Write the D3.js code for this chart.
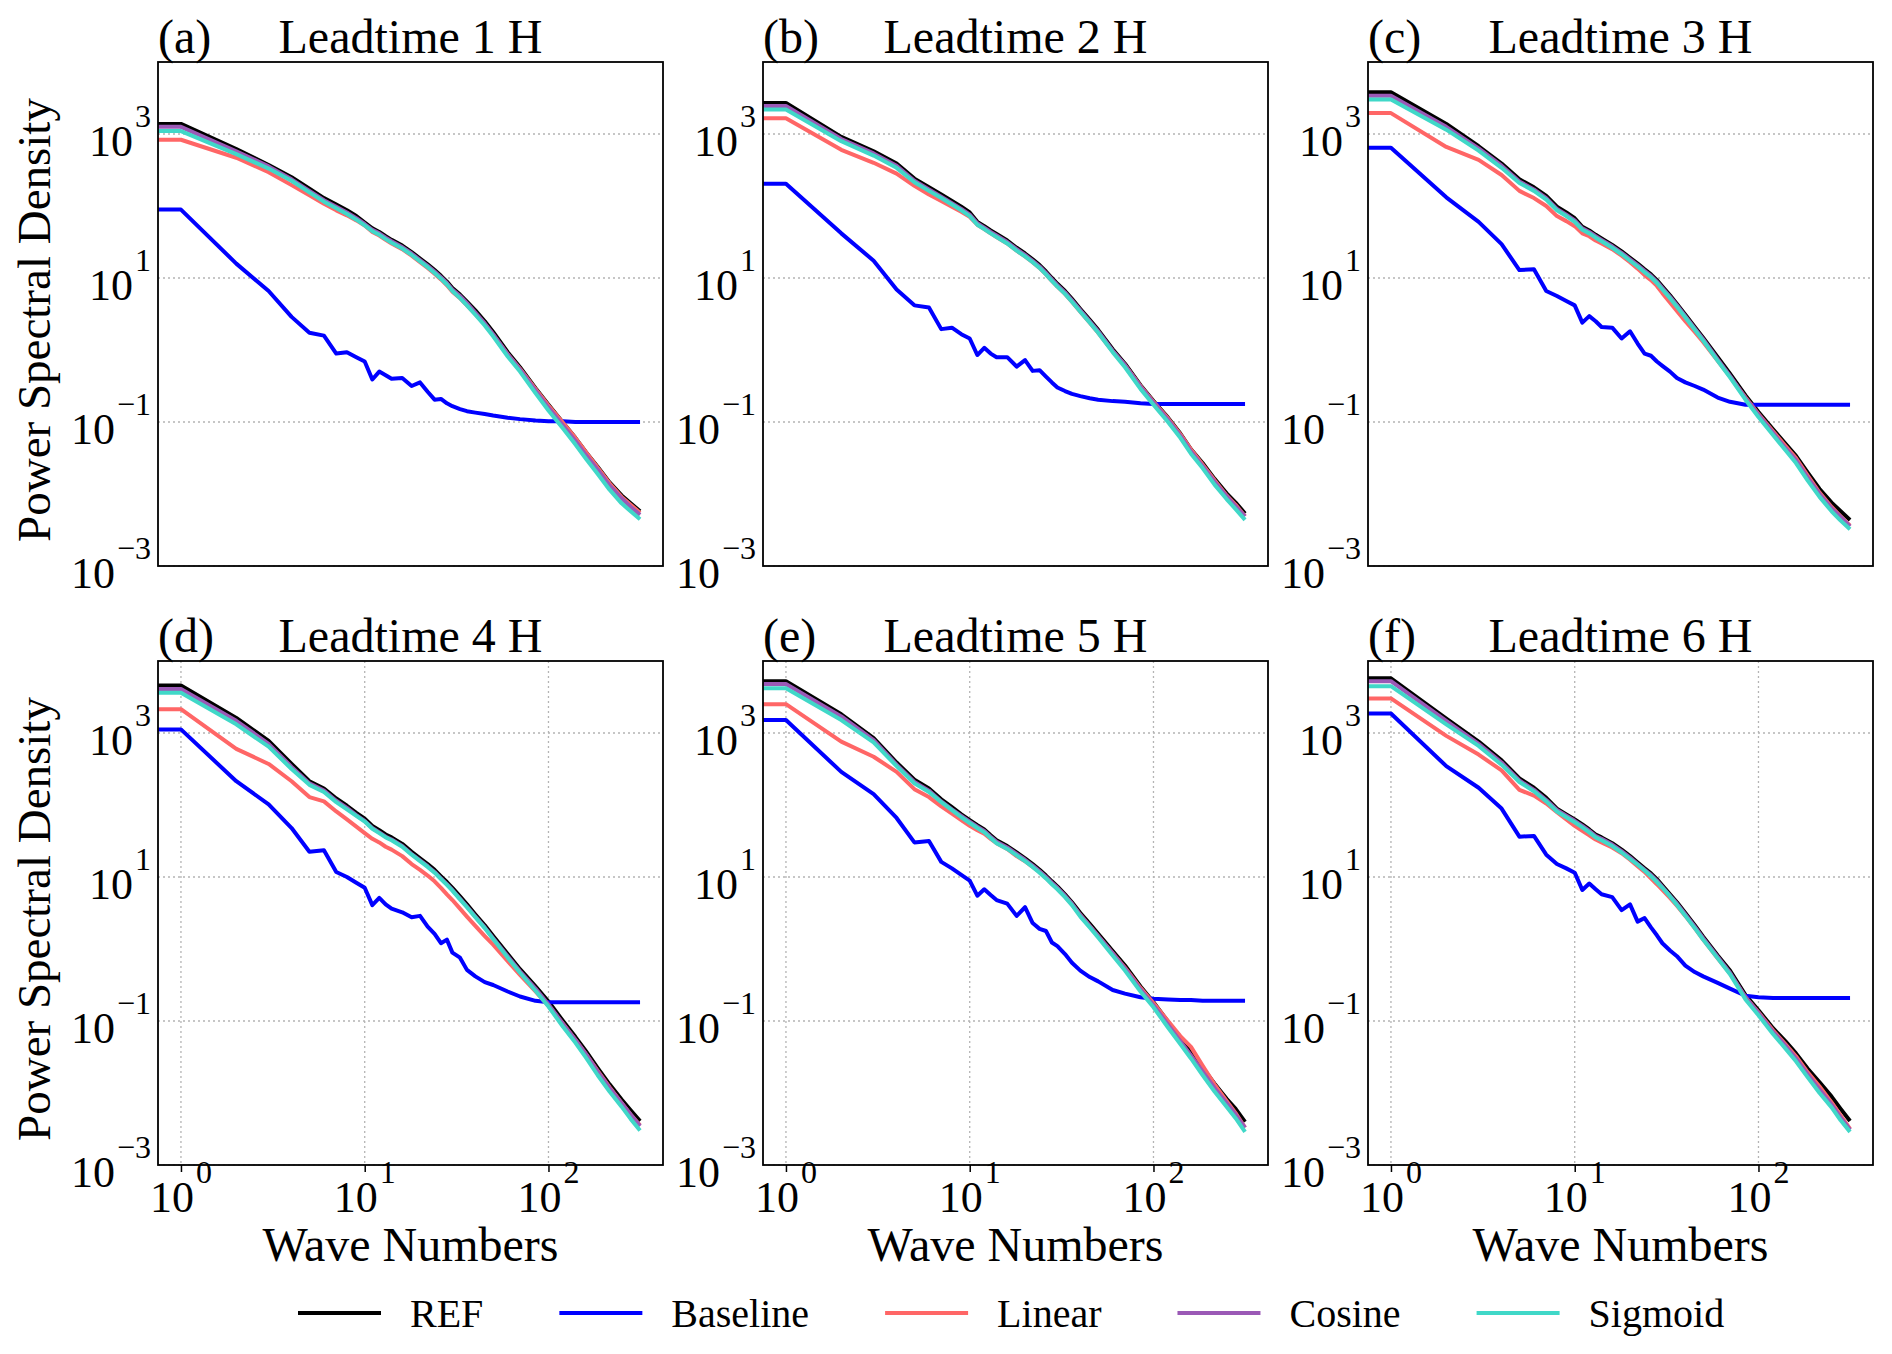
<!DOCTYPE html>
<html>
<head>
<meta charset="utf-8">
<script src="https://cdn.jsdelivr.net/npm/d3@7"></script>
<style>
body { margin: 0; background: #fff; }
text { font-family: "Liberation Serif", "Times New Roman", serif; fill: #000; }
</style>
</head>
<body>
<div id="viz"></div>
<script>
// wave numbers shared by every curve
var waveNumbers = [1,2,3,4,5,6,7,8,9,10,11,12,13,14,16,18,20,22,24,26,28,30,33,36,40,45,50,60,70,85,100,120,140,160,185,215,250,280,315];

// log10 of the power spectral density
// (a) leadtime 1 H
var refA  = [3.14,2.79,2.57,2.40,2.24,2.11,2.02,1.94,1.86,1.77, 1.69,1.64,1.58,1.53,1.45,1.36,1.27,1.19,1.11,1.03, 0.95,0.86,0.77,0.67,0.55,0.40,0.25,-0.03,-0.24,-0.53, -0.76,-1.01,-1.22,-1.42,-1.62,-1.84,-2.02,-2.13,-2.24];
var baseA = [1.95,1.20,0.82,0.46,0.24,0.20,-0.05,-0.03,-0.10,-0.16, -0.41,-0.30,-0.35,-0.40,-0.39,-0.50,-0.45,-0.58,-0.69,-0.68, -0.74,-0.78,-0.82,-0.85,-0.87,-0.89,-0.91,-0.94,-0.96,-0.98, -0.99,-0.99,-1.00,-1.00,-1.00,-1.00,-1.00,-1.00,-1.00];
var linA  = [2.92,2.67,2.47,2.29,2.15,2.03,1.94,1.87,1.80,1.73, 1.64,1.59,1.53,1.48,1.40,1.31,1.22,1.14,1.06,0.98, 0.90,0.81,0.72,0.62,0.50,0.36,0.21,-0.06,-0.26,-0.54, -0.77,-1.01,-1.22,-1.42,-1.63,-1.85,-2.04,-2.15,-2.26];
var cosA  = [3.10,2.76,2.55,2.37,2.21,2.08,1.99,1.91,1.83,1.75, 1.67,1.62,1.56,1.51,1.43,1.34,1.25,1.17,1.09,1.01, 0.93,0.84,0.75,0.65,0.52,0.37,0.22,-0.06,-0.27,-0.56, -0.80,-1.05,-1.26,-1.46,-1.66,-1.88,-2.06,-2.18,-2.29];
var sigA  = [3.04,2.72,2.52,2.35,2.19,2.06,1.97,1.89,1.81,1.73, 1.65,1.60,1.54,1.49,1.41,1.32,1.23,1.15,1.07,0.99, 0.91,0.82,0.72,0.62,0.49,0.34,0.19,-0.09,-0.30,-0.60, -0.84,-1.09,-1.31,-1.51,-1.72,-1.94,-2.13,-2.24,-2.35];

// (b) leadtime 2 H
var refB  = [3.43,2.96,2.76,2.59,2.38,2.26,2.16,2.07,1.99,1.91, 1.78,1.72,1.66,1.61,1.52,1.42,1.34,1.26,1.18,1.09, 1.00,0.92,0.82,0.71,0.57,0.42,0.28,0.01,-0.19,-0.49, -0.71,-0.94,-1.16,-1.38,-1.57,-1.79,-1.99,-2.12,-2.27];
var baseB = [2.31,1.62,1.24,0.84,0.62,0.59,0.29,0.31,0.22,0.16, -0.07,0.03,-0.05,-0.10,-0.10,-0.23,-0.14,-0.29,-0.28,-0.37, -0.45,-0.52,-0.57,-0.61,-0.64,-0.67,-0.69,-0.71,-0.72,-0.74, -0.75,-0.75,-0.75,-0.75,-0.75,-0.75,-0.75,-0.75,-0.75];
var linB  = [3.22,2.78,2.60,2.45,2.28,2.16,2.07,1.99,1.92,1.85, 1.74,1.68,1.62,1.57,1.48,1.38,1.30,1.22,1.14,1.05, 0.96,0.88,0.78,0.67,0.53,0.38,0.24,-0.02,-0.21,-0.50, -0.72,-0.95,-1.17,-1.38,-1.59,-1.81,-2.02,-2.15,-2.31];
var cosB  = [3.39,2.93,2.73,2.56,2.35,2.23,2.13,2.04,1.96,1.88, 1.76,1.70,1.64,1.59,1.50,1.40,1.32,1.24,1.16,1.07, 0.98,0.90,0.80,0.69,0.55,0.40,0.26,-0.01,-0.21,-0.51, -0.73,-0.97,-1.19,-1.41,-1.61,-1.83,-2.03,-2.17,-2.31];
var sigB  = [3.34,2.90,2.70,2.53,2.33,2.21,2.11,2.02,1.94,1.86, 1.74,1.68,1.62,1.57,1.48,1.38,1.30,1.22,1.14,1.05, 0.96,0.88,0.78,0.67,0.53,0.38,0.24,-0.03,-0.24,-0.54, -0.76,-1.00,-1.22,-1.44,-1.64,-1.87,-2.07,-2.21,-2.36];

// (c) leadtime 3 H
var refC  = [3.58,3.14,2.83,2.59,2.37,2.26,2.14,1.99,1.91,1.83, 1.71,1.66,1.60,1.55,1.46,1.37,1.28,1.20,1.12,1.05, 0.97,0.88,0.76,0.64,0.49,0.32,0.17,-0.10,-0.33,-0.63, -0.86,-1.10,-1.30,-1.47,-1.70,-1.93,-2.12,-2.24,-2.36];
var baseC = [2.81,2.12,1.78,1.47,1.11,1.12,0.82,0.75,0.68,0.62, 0.38,0.47,0.40,0.32,0.31,0.16,0.26,0.09,-0.05,-0.08, -0.16,-0.22,-0.30,-0.39,-0.45,-0.50,-0.55,-0.66,-0.72,-0.76, -0.76,-0.76,-0.76,-0.76,-0.76,-0.76,-0.76,-0.76,-0.76];
var linC  = [3.29,2.82,2.64,2.43,2.21,2.11,2.00,1.86,1.79,1.72, 1.62,1.58,1.52,1.48,1.40,1.31,1.22,1.13,1.04,0.97, 0.89,0.79,0.66,0.54,0.40,0.25,0.11,-0.15,-0.37,-0.66, -0.89,-1.13,-1.33,-1.50,-1.74,-1.98,-2.18,-2.31,-2.44];
var cosC  = [3.53,3.10,2.80,2.56,2.34,2.23,2.11,1.96,1.88,1.80, 1.69,1.64,1.58,1.53,1.44,1.35,1.26,1.18,1.10,1.03, 0.95,0.86,0.74,0.62,0.47,0.30,0.15,-0.13,-0.36,-0.67, -0.90,-1.15,-1.36,-1.53,-1.77,-2.00,-2.20,-2.32,-2.45];
var sigC  = [3.48,3.06,2.77,2.53,2.32,2.21,2.09,1.94,1.86,1.78, 1.67,1.62,1.56,1.51,1.42,1.33,1.24,1.16,1.08,1.01, 0.93,0.84,0.72,0.60,0.45,0.28,0.13,-0.15,-0.38,-0.69, -0.93,-1.18,-1.39,-1.57,-1.81,-2.04,-2.24,-2.37,-2.49];

// (d) leadtime 4 H
var refD  = [3.66,3.21,2.89,2.57,2.33,2.23,2.09,1.99,1.89,1.81, 1.71,1.65,1.59,1.55,1.46,1.35,1.26,1.18,1.10,1.01, 0.93,0.85,0.73,0.62,0.48,0.33,0.18,-0.07,-0.28,-0.52, -0.73,-1.00,-1.22,-1.42,-1.65,-1.88,-2.09,-2.24,-2.39];
var baseD = [3.05,2.33,2.01,1.68,1.35,1.37,1.07,1.00,0.92,0.85, 0.61,0.71,0.62,0.56,0.51,0.44,0.46,0.31,0.21,0.08, 0.13,-0.05,-0.12,-0.29,-0.38,-0.46,-0.50,-0.59,-0.66,-0.72, -0.74,-0.74,-0.74,-0.74,-0.74,-0.74,-0.74,-0.74,-0.74];
var linD  = [3.33,2.78,2.57,2.33,2.11,2.05,1.91,1.80,1.70,1.61, 1.53,1.48,1.42,1.38,1.29,1.18,1.10,1.02,0.94,0.85, 0.76,0.68,0.56,0.45,0.32,0.18,0.06,-0.17,-0.36,-0.59, -0.79,-1.04,-1.26,-1.46,-1.69,-1.92,-2.14,-2.30,-2.45];
var cosD  = [3.61,3.17,2.85,2.53,2.30,2.20,2.06,1.96,1.86,1.78, 1.68,1.62,1.56,1.52,1.43,1.32,1.23,1.15,1.07,0.98, 0.90,0.82,0.70,0.59,0.45,0.30,0.15,-0.10,-0.31,-0.55, -0.77,-1.04,-1.26,-1.46,-1.70,-1.93,-2.14,-2.30,-2.46];
var sigD  = [3.56,3.12,2.81,2.50,2.28,2.18,2.04,1.94,1.85,1.77, 1.67,1.61,1.55,1.51,1.42,1.31,1.22,1.14,1.06,0.97, 0.89,0.81,0.69,0.58,0.44,0.29,0.14,-0.12,-0.33,-0.58, -0.80,-1.08,-1.30,-1.51,-1.75,-1.98,-2.19,-2.36,-2.52];

// (e) leadtime 5 H
var refE  = [3.72,3.26,2.93,2.59,2.35,2.23,2.08,1.97,1.87,1.79, 1.72,1.66,1.58,1.51,1.43,1.34,1.26,1.18,1.10,1.02, 0.94,0.87,0.76,0.65,0.50,0.35,0.21,-0.03,-0.23,-0.52, -0.74,-1.01,-1.24,-1.43,-1.65,-1.87,-2.08,-2.22,-2.40];
var baseE = [3.18,2.46,2.15,1.82,1.48,1.50,1.21,1.12,1.03,0.95, 0.74,0.83,0.75,0.68,0.63,0.46,0.58,0.36,0.28,0.25, 0.09,0.04,-0.07,-0.19,-0.30,-0.39,-0.45,-0.57,-0.62,-0.67, -0.69,-0.70,-0.71,-0.71,-0.72,-0.72,-0.72,-0.72,-0.72];
var linE  = [3.40,2.88,2.67,2.46,2.22,2.11,1.98,1.88,1.79,1.71, 1.65,1.60,1.53,1.47,1.39,1.29,1.22,1.14,1.07,0.99, 0.91,0.84,0.73,0.62,0.47,0.32,0.18,-0.06,-0.26,-0.54, -0.75,-1.00,-1.21,-1.36,-1.62,-1.88,-2.11,-2.28,-2.48];
var cosE  = [3.68,3.23,2.90,2.56,2.32,2.20,2.05,1.94,1.85,1.77, 1.70,1.64,1.56,1.49,1.41,1.32,1.24,1.16,1.08,1.00, 0.92,0.85,0.74,0.63,0.47,0.32,0.18,-0.06,-0.27,-0.56, -0.78,-1.05,-1.28,-1.48,-1.70,-1.93,-2.14,-2.30,-2.48];
var sigE  = [3.62,3.18,2.87,2.54,2.30,2.18,2.04,1.93,1.83,1.75, 1.68,1.62,1.54,1.47,1.39,1.30,1.22,1.14,1.06,0.98, 0.90,0.83,0.72,0.61,0.45,0.30,0.16,-0.09,-0.30,-0.59, -0.81,-1.09,-1.32,-1.52,-1.75,-1.98,-2.19,-2.35,-2.54];

// (f) leadtime 6 H
var refF  = [3.76,3.20,2.88,2.62,2.37,2.24,2.10,1.95,1.87,1.80, 1.73,1.66,1.59,1.55,1.47,1.38,1.29,1.20,1.12,1.05, 0.97,0.88,0.76,0.65,0.50,0.33,0.17,-0.09,-0.30,-0.64, -0.85,-1.10,-1.28,-1.45,-1.66,-1.85,-2.05,-2.22,-2.39];
var baseF = [3.27,2.54,2.24,1.95,1.56,1.57,1.31,1.18,1.12,1.06, 0.82,0.91,0.83,0.76,0.72,0.54,0.62,0.38,0.43,0.30, 0.19,0.08,-0.02,-0.10,-0.23,-0.32,-0.38,-0.47,-0.55,-0.65, -0.67,-0.68,-0.68,-0.68,-0.68,-0.68,-0.68,-0.68,-0.68];
var linF  = [3.48,2.96,2.70,2.48,2.21,2.13,2.02,1.90,1.80,1.71, 1.64,1.58,1.52,1.48,1.41,1.33,1.24,1.15,1.07,0.98, 0.90,0.82,0.71,0.60,0.46,0.29,0.13,-0.13,-0.34,-0.67, -0.88,-1.13,-1.32,-1.49,-1.71,-1.91,-2.13,-2.31,-2.50];
var cosF  = [3.72,3.17,2.85,2.59,2.34,2.21,2.07,1.93,1.85,1.78, 1.71,1.64,1.57,1.53,1.45,1.36,1.27,1.18,1.10,1.03, 0.95,0.86,0.74,0.63,0.48,0.31,0.15,-0.11,-0.33,-0.67, -0.89,-1.15,-1.34,-1.52,-1.74,-1.95,-2.16,-2.34,-2.51];
var sigF  = [3.65,3.12,2.82,2.56,2.32,2.19,2.05,1.91,1.83,1.76, 1.69,1.62,1.55,1.51,1.43,1.34,1.25,1.17,1.09,1.01, 0.93,0.85,0.73,0.61,0.46,0.29,0.13,-0.13,-0.35,-0.70, -0.92,-1.18,-1.38,-1.56,-1.78,-2.00,-2.20,-2.38,-2.54];

var panelTags = ["(a)","(b)","(c)","(d)","(e)","(f)"];
var panelTitles = ["Leadtime 1 H","Leadtime 2 H","Leadtime 3 H","Leadtime 4 H","Leadtime 5 H","Leadtime 6 H"];
var seriesNames = ["REF","Baseline","Linear","Cosine","Sigmoid"];
var seriesColors = ["#000000","#0000ff","#ff6666","#9b59b6","#40d8c8"];

var yMajorExp = [-3,-1,1,3];
var xMajorExp = [0,1,2];
var xMinor = [0.8,0.9,2,3,4,5,6,7,8,9,20,30,40,50,60,70,80,90,200,300,400];

var panelData = [
	[refA,baseA,linA,cosA,sigA],
	[refB,baseB,linB,cosB,sigB],
	[refC,baseC,linC,cosC,sigC],
	[refD,baseD,linD,cosD,sigD],
	[refE,baseE,linE,cosE,sigE],
	[refF,baseF,linF,cosF,sigF]
];

var svg = d3.select("#viz")
	.append("svg")
	.attr("width",1892)
	.attr("height",1354);

svg.append("rect").attr("width",1892).attr("height",1354).attr("fill","#fff");

var colLeft = [158,763,1368];
var rowTop = [62,661];
var pw = 505, ph = 504;

var x = d3.scaleLog().domain([0.75,420]).range([0,pw]);
var y = d3.scaleLog().domain([1e-3,1e4]).range([ph,0]);

var line = d3.line()
	.x(function(d){ return x(d[0]); })
	.y(function(d){ return y(Math.pow(10,d[1])); });

function powerLabel(t, e){
	t.append("tspan").text("10");
	t.append("tspan")
		.attr("dx",2)
		.attr("dy",-29)
		.attr("font-size",32)
		.text(e < 0 ? "\u2212" + (-e) : e);
}

panelData.forEach(function(series,i){
	var col = i % 3, row = Math.floor(i/3);
	var g = svg.append("g")
		.attr("transform","translate("+colLeft[col]+","+rowTop[row]+")");

	g.append("clipPath").attr("id","clip"+i)
		.append("rect").attr("width",pw).attr("height",ph);

	// dotted grid
	g.selectAll(".hgrid").data(yMajorExp).enter()
		.append("line")
		.attr("x1",0).attr("x2",pw)
		.attr("y1",function(d){ return y(Math.pow(10,d)); })
		.attr("y2",function(d){ return y(Math.pow(10,d)); })
		.attr("stroke","#b4b4b4").attr("stroke-width",1.3)
		.attr("stroke-dasharray","2,3");
	if (row == 1) {
		g.selectAll(".vgrid").data(xMajorExp).enter()
			.append("line")
			.attr("y1",0).attr("y2",ph)
			.attr("x1",function(d){ return x(Math.pow(10,d)); })
			.attr("x2",function(d){ return x(Math.pow(10,d)); })
			.attr("stroke","#b4b4b4").attr("stroke-width",1.3)
			.attr("stroke-dasharray","2,3");
	}

	// curves, flat lead-in from the left edge to k = 1
	var lines = g.append("g").attr("clip-path","url(#clip"+i+")");
	series.forEach(function(vals,s){
		var pts = [[x.domain()[0], vals[0]]].concat(waveNumbers.map(function(k,j){ return [k, vals[j]]; }));
		lines.append("path")
			.attr("d",line(pts))
			.attr("fill","none")
			.attr("stroke",seriesColors[s])
			.attr("stroke-width",4)
			.attr("stroke-linejoin","round");
	});

	// frame
	g.append("rect")
		.attr("width",pw).attr("height",ph)
		.attr("fill","none").attr("stroke","#000").attr("stroke-width",1.8);

	// y tick labels
	g.selectAll(".ylab").data(yMajorExp).enter()
		.append("text")
		.attr("x",-7)
		.attr("y",function(d){ return y(Math.pow(10,d)) + 22; })
		.attr("text-anchor","end")
		.attr("font-size",44)
		.each(function(d){ powerLabel(d3.select(this), d); });

	if (row == 1) {
		var ax = g.append("g").attr("transform","translate(0,"+ph+")");
		ax.call(d3.axisBottom(x).tickValues(xMinor).tickSize(4).tickFormat(""));
		ax.call(d3.axisBottom(x).tickValues(xMajorExp.map(function(e){ return Math.pow(10,e); })).tickSize(7).tickFormat(""));
		ax.selectAll(".domain").remove();
		ax.selectAll("line").attr("stroke","#000").attr("stroke-width",1.5);

		g.selectAll(".xlab").data(xMajorExp).enter()
			.append("text")
			.attr("x",function(d){ return x(Math.pow(10,d)); })
			.attr("y",ph + 47)
			.attr("text-anchor","middle")
			.attr("font-size",44)
			.each(function(d){ powerLabel(d3.select(this), d); });

		g.append("text")
			.attr("x",pw/2).attr("y",ph + 96)
			.attr("text-anchor","middle")
			.attr("font-size",48)
			.text("Wave Numbers");
	}

	if (col == 0) {
		g.append("text")
			.attr("transform","translate(-108,"+(ph/2 + 6)+") rotate(-90)")
			.attr("text-anchor","middle")
			.attr("font-size",47)
			.text("Power Spectral Density");
	}

	g.append("text")
		.attr("x",0).attr("y",-9)
		.attr("font-size",48)
		.text(panelTags[i]);
	g.append("text")
		.attr("x",pw/2).attr("y",-9)
		.attr("text-anchor","middle")
		.attr("font-size",48)
		.text(panelTitles[i]);
});

// legend
var legend = svg.append("g").attr("transform","translate(298,1313)");
var lx = 0;
seriesNames.forEach(function(name,s){
	legend.append("line")
		.attr("x1",lx).attr("x2",lx+83)
		.attr("y1",0).attr("y2",0)
		.attr("stroke",seriesColors[s]).attr("stroke-width",4);
	var t = legend.append("text")
		.attr("x",lx+112).attr("y",14)
		.attr("font-size",40)
		.text(name);
	lx += 112 + t.node().getComputedTextLength() + 76;
});
</script>
</body>
</html>
